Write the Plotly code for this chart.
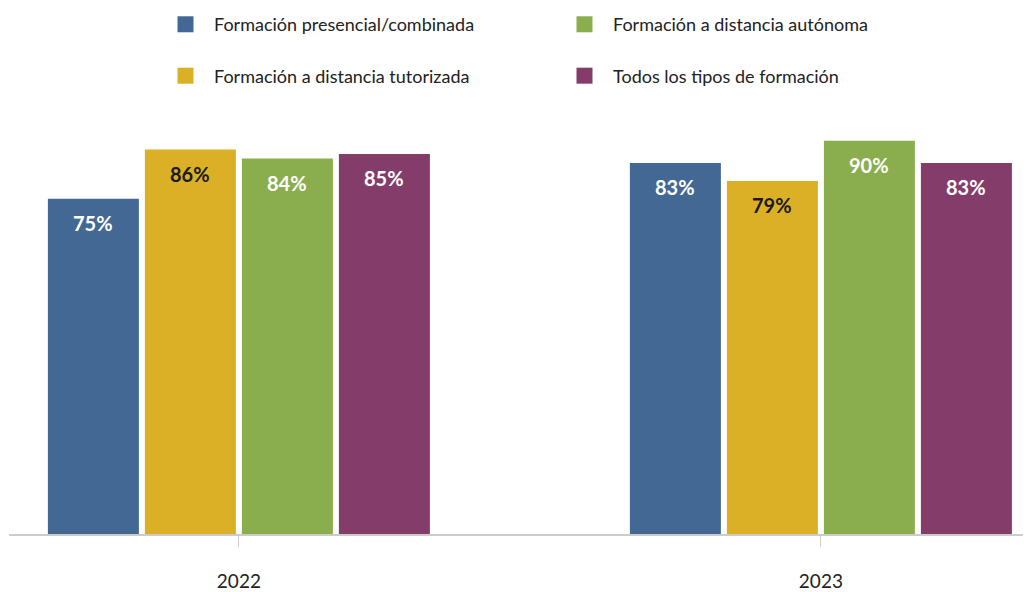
import plotly.graph_objects as go

years = ["2022", "2023"]
series_names = [
    "Formación presencial/combinada",
    "Formación a distancia tutorizada",
    "Formación a distancia autónoma",
    "Todos los tipos de formación",
]
# bar heights (percent)
presencial = [75, 83]
tutorizada = [86, 79]
autonoma = [84, 88]
todos = [85, 83]
# printed labels
presencial_lbl = ["75%", "83%"]
tutorizada_lbl = ["86%", "79%"]
autonoma_lbl = ["84%", "90%"]
todos_lbl = ["85%", "83%"]

colors = ["#436893", "#dbb027", "#8aae4e", "#843d6b"]
label_colors = ["#ffffff", "#1a1a1a", "#ffffff", "#ffffff"]
FONT = "Lato, Roboto, sans-serif"

values = [presencial, tutorizada, autonoma, todos]
labels = [presencial_lbl, tutorizada_lbl, autonoma_lbl, todos_lbl]

fig = go.Figure()
for i, name in enumerate(series_names):
    fig.add_trace(
        go.Bar(
            x=years,
            y=values[i],
            name=name,
            marker=dict(color=colors[i], line=dict(width=0)),
            showlegend=False,
            hoverinfo="skip",
        )
    )

# legend entries (bigger squares than bar legend symbols)
legend_of = ["legend", "legend", "legend2", "legend2"]
for i, name in enumerate(series_names):
    fig.add_trace(
        go.Scatter(
            x=[years[0]],
            y=[None],
            mode="markers",
            name=name,
            legend=legend_of[i],
            legendgroup="g%d" % i,
            hoverinfo="skip",
            marker=dict(symbol="square", size=17, color=colors[i], line=dict(width=0)),
        )
    )

# value labels inside the top of each bar
# (x given as category index, "2022" would be read as a number)
annotations = []
for i in range(4):
    for j, yr in enumerate(years):
        annotations.append(
            dict(
                x=j,
                y=values[i][j],
                xref="x",
                yref="y",
                text="<b>" + labels[i][j] + "</b>",
                showarrow=False,
                xshift=(i - 1.5) * 97,
                yshift=-24,
                yanchor="middle",
                font=dict(size=20, color=label_colors[i]),
            )
        )

legend_style = dict(
    orientation="v",
    xref="container",
    yref="paper",
    xanchor="left",
    yanchor="top",
    itemwidth=47,
    tracegroupgap=25,
    font=dict(family=FONT, size=18, color="#222222"),
    bgcolor="rgba(0,0,0,0)",
)

# page body adds an 8px offset, so the figure is 8px smaller
W, H = 1023, 584
fig.update_layout(
    width=W,
    height=H,
    margin=dict(l=1, r=0, t=92, b=58, autoexpand=False),
    paper_bgcolor="white",
    plot_bgcolor="white",
    barmode="group",
    bargap=0.3333,
    bargroupgap=0.062,
    font=dict(family=FONT, color="#222222"),
    annotations=annotations,
    legend=dict(legend_style, x=149 / W, y=1.2164),
    legend2=dict(legend_style, x=548 / W, y=1.2164),
    xaxis=dict(
        type="category",
        range=[-0.395, 1.361],
        showline=True,
        linecolor="#cccccc",
        linewidth=2,
        ticks="outside",
        ticklen=11,
        tickcolor="#cccccc",
        tickwidth=1,
        tickangle=0,
        ticklabelstandoff=18,
        tickfont=dict(family=FONT, size=19, color="#222222"),
        showgrid=False,
        zeroline=False,
    ),
    yaxis=dict(
        range=[0, 97.1],
        showticklabels=False,
        showline=False,
        ticks="",
        showgrid=False,
        zeroline=False,
    ),
)

fig.write_html("out.html")
